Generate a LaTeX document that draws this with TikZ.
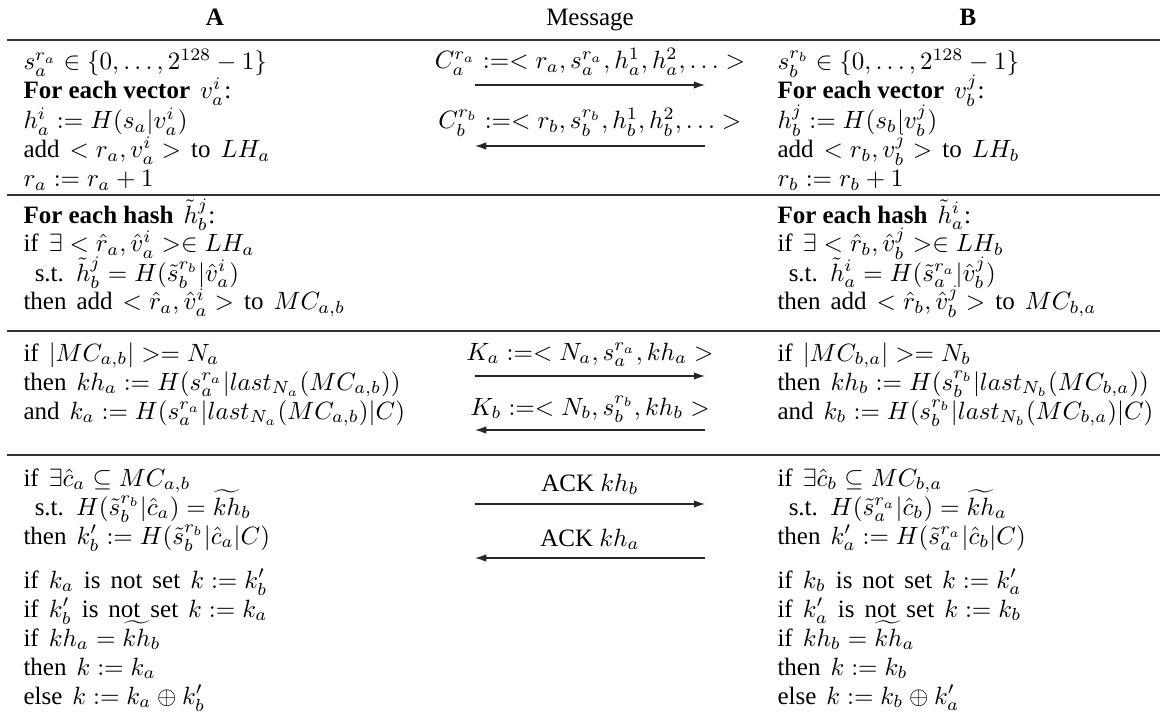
\documentclass[tikz,border=0pt]{standalone}
\usepackage{amsmath}
\usepackage{amssymb}
\usepackage{fontspec}
\setmainfont{Liberation Serif}
\usetikzlibrary{arrows.meta}

\begin{document}
\begin{tikzpicture}[x=0.4pt, y=-0.4pt,
        codeline/.style={anchor=base west, inner sep=0pt, execute at begin node={\spaceskip=4pt\relax}},
        msg/.style={anchor=base, inner sep=0pt},
        rule/.style={line width=0.9pt, black!80},
        msgarrow/.style={-{Latex[length=4.5pt, width=3pt]}, line width=0.5pt, black!85}]
        \useasboundingbox (0,0) rectangle (1167,719);

        % Column headers
        \node[msg, font=\bfseries] (headA) at (215,26) {A};
        \node[msg] (headM) at (590,26) {Message};
        \node[msg, font=\bfseries] (headB) at (968,26) {B};

        % Row rules
        \foreach \y in {40, 195, 331, 455} {
            \draw[rule] (7,\y) -- (1160,\y);
        }

        % Phase 1: commitments
        \foreach \y/\t [count=\i] in {70/{$s_a^{r_a} \in \{0,\dots,2^{128}-1\}$},
            99/{\textbf{\spaceskip=0pt For each vector} $v_a^i$:},
            129/{$h_a^i := H(s_a|v_a^i)$},
            158/{add $< r_a, v_a^i >$ to $LH_a$},
            187/{$r_a := r_a + 1$}} {
            \node[codeline] (oneA\i) at (23,\y) {\t};
        }
        \foreach \y/\t [count=\i] in {70/{$s_b^{r_b} \in \{0,\dots,2^{128}-1\}$},
            99/{\textbf{\spaceskip=0pt For each vector} $v_b^j$:},
            129/{$h_b^j := H(s_b|v_b^j)$},
            158/{add $< r_b, v_b^j >$ to $LH_b$},
            187/{$r_b := r_b + 1$}} {
            \node[codeline] (oneB\i) at (777,\y) {\t};
        }
        \node[msg] (msgCa) at (590,69) {$C_a^{r_a} :=< r_a, s_a^{r_a}, h_a^1, h_a^2, \ldots >$};
        \node[msg] (msgCb) at (590,129) {$C_b^{r_b} :=< r_b, s_b^{r_b}, h_b^1, h_b^2, \ldots >$};
        \coordinate (arrCaL) at (475,85);
        \coordinate (arrCaR) at (705,85);
        \coordinate (arrCbL) at (475,146);
        \coordinate (arrCbR) at (705,146);
        \draw[msgarrow] (arrCaL) -- (arrCaR);
        \draw[msgarrow] (arrCbR) -- (arrCbL);

        % Phase 2: matching
        \foreach \y/\t [count=\i] in {223/{\textbf{\spaceskip=0pt For each hash} $\tilde{h}_b^j$:},
            252/{if $\exists < \hat{r}_a, \hat{v}_a^i >\in LH_a$},
            281/{\hspace*{4.5pt}s.t. $\tilde{h}_b^j = H(\tilde{s}_b^{r_b}|\hat{v}_a^i)$},
            310/{then add $< \hat{r}_a, \hat{v}_a^i >$ to $MC_{a,b}$}} {
            \node[codeline] (twoA\i) at (23,\y) {\t};
        }
        \foreach \y/\t [count=\i] in {223/{\textbf{\spaceskip=0pt For each hash} $\tilde{h}_a^i$:},
            252/{if $\exists < \hat{r}_b, \hat{v}_b^j >\in LH_b$},
            281/{\hspace*{4.5pt}s.t. $\tilde{h}_a^i = H(\tilde{s}_a^{r_a}|\hat{v}_b^j)$},
            310/{then add $< \hat{r}_b, \hat{v}_b^j >$ to $MC_{b,a}$}} {
            \node[codeline] (twoB\i) at (777,\y) {\t};
        }

        % Phase 3: key hashes
        \foreach \y/\t [count=\i] in {361/{if $|MC_{a,b}| >= N_a$},
            390/{then $kh_a := H(s_a^{r_a}|last_{N_a}(MC_{a,b}))$},
            419/{and $k_a := H(s_a^{r_a}|last_{N_a}(MC_{a,b})|C)$}} {
            \node[codeline] (threeA\i) at (23,\y) {\t};
        }
        \foreach \y/\t [count=\i] in {361/{if $|MC_{b,a}| >= N_b$},
            390/{then $kh_b := H(s_b^{r_b}|last_{N_b}(MC_{b,a}))$},
            419/{and $k_b := H(s_b^{r_b}|last_{N_b}(MC_{b,a})|C)$}} {
            \node[codeline] (threeB\i) at (777,\y) {\t};
        }
        \node[msg] (msgKa) at (590,360) {$K_a :=< N_a, s_a^{r_a}, kh_a >$};
        \node[msg] (msgKb) at (590,415) {$K_b :=< N_b, s_b^{r_b}, kh_b >$};
        \coordinate (arrKaL) at (475,376);
        \coordinate (arrKaR) at (705,376);
        \coordinate (arrKbL) at (475,430);
        \coordinate (arrKbR) at (705,430);
        \draw[msgarrow] (arrKaL) -- (arrKaR);
        \draw[msgarrow] (arrKbR) -- (arrKbL);

        % Phase 4: confirmation
        \foreach \y/\t [count=\i] in {486/{if $\exists\hat{c}_a \subseteq MC_{a,b}$},
            515/{\hspace*{4.5pt}s.t. $H(\tilde{s}_b^{r_b}|\hat{c}_a) = \widetilde{kh}_b$},
            544/{then $k_b' := H(\tilde{s}_b^{r_b}|\hat{c}_a|C)$},
            588/{if $k_a$ is not set $k := k_b'$},
            617/{if $k_b'$ is not set $k := k_a$},
            646/{if $kh_a = \widetilde{kh}_b$},
            675/{then $k := k_a$},
            704/{else $k := k_a \oplus k_b'$}} {
            \node[codeline] (fourA\i) at (23,\y) {\t};
        }
        \foreach \y/\t [count=\i] in {486/{if $\exists\hat{c}_b \subseteq MC_{b,a}$},
            515/{\hspace*{4.5pt}s.t. $H(\tilde{s}_a^{r_a}|\hat{c}_b) = \widetilde{kh}_a$},
            544/{then $k_a' := H(\tilde{s}_a^{r_a}|\hat{c}_b|C)$},
            588/{if $k_b$ is not set $k := k_a'$},
            617/{if $k_a'$ is not set $k := k_b$},
            646/{if $kh_b = \widetilde{kh}_a$},
            675/{then $k := k_b$},
            704/{else $k := k_b \oplus k_a'$}} {
            \node[codeline] (fourB\i) at (777,\y) {\t};
        }
        \node[msg] (msgAckB) at (590,491) {ACK $kh_b$};
        \node[msg] (msgAckA) at (590,546) {ACK $kh_a$};
        \coordinate (arrAckBL) at (475,504);
        \coordinate (arrAckBR) at (705,504);
        \coordinate (arrAckAL) at (475,558);
        \coordinate (arrAckAR) at (705,558);
        \draw[msgarrow] (arrAckBL) -- (arrAckBR);
        \draw[msgarrow] (arrAckAR) -- (arrAckAL);
    \end{tikzpicture}
\end{document}
